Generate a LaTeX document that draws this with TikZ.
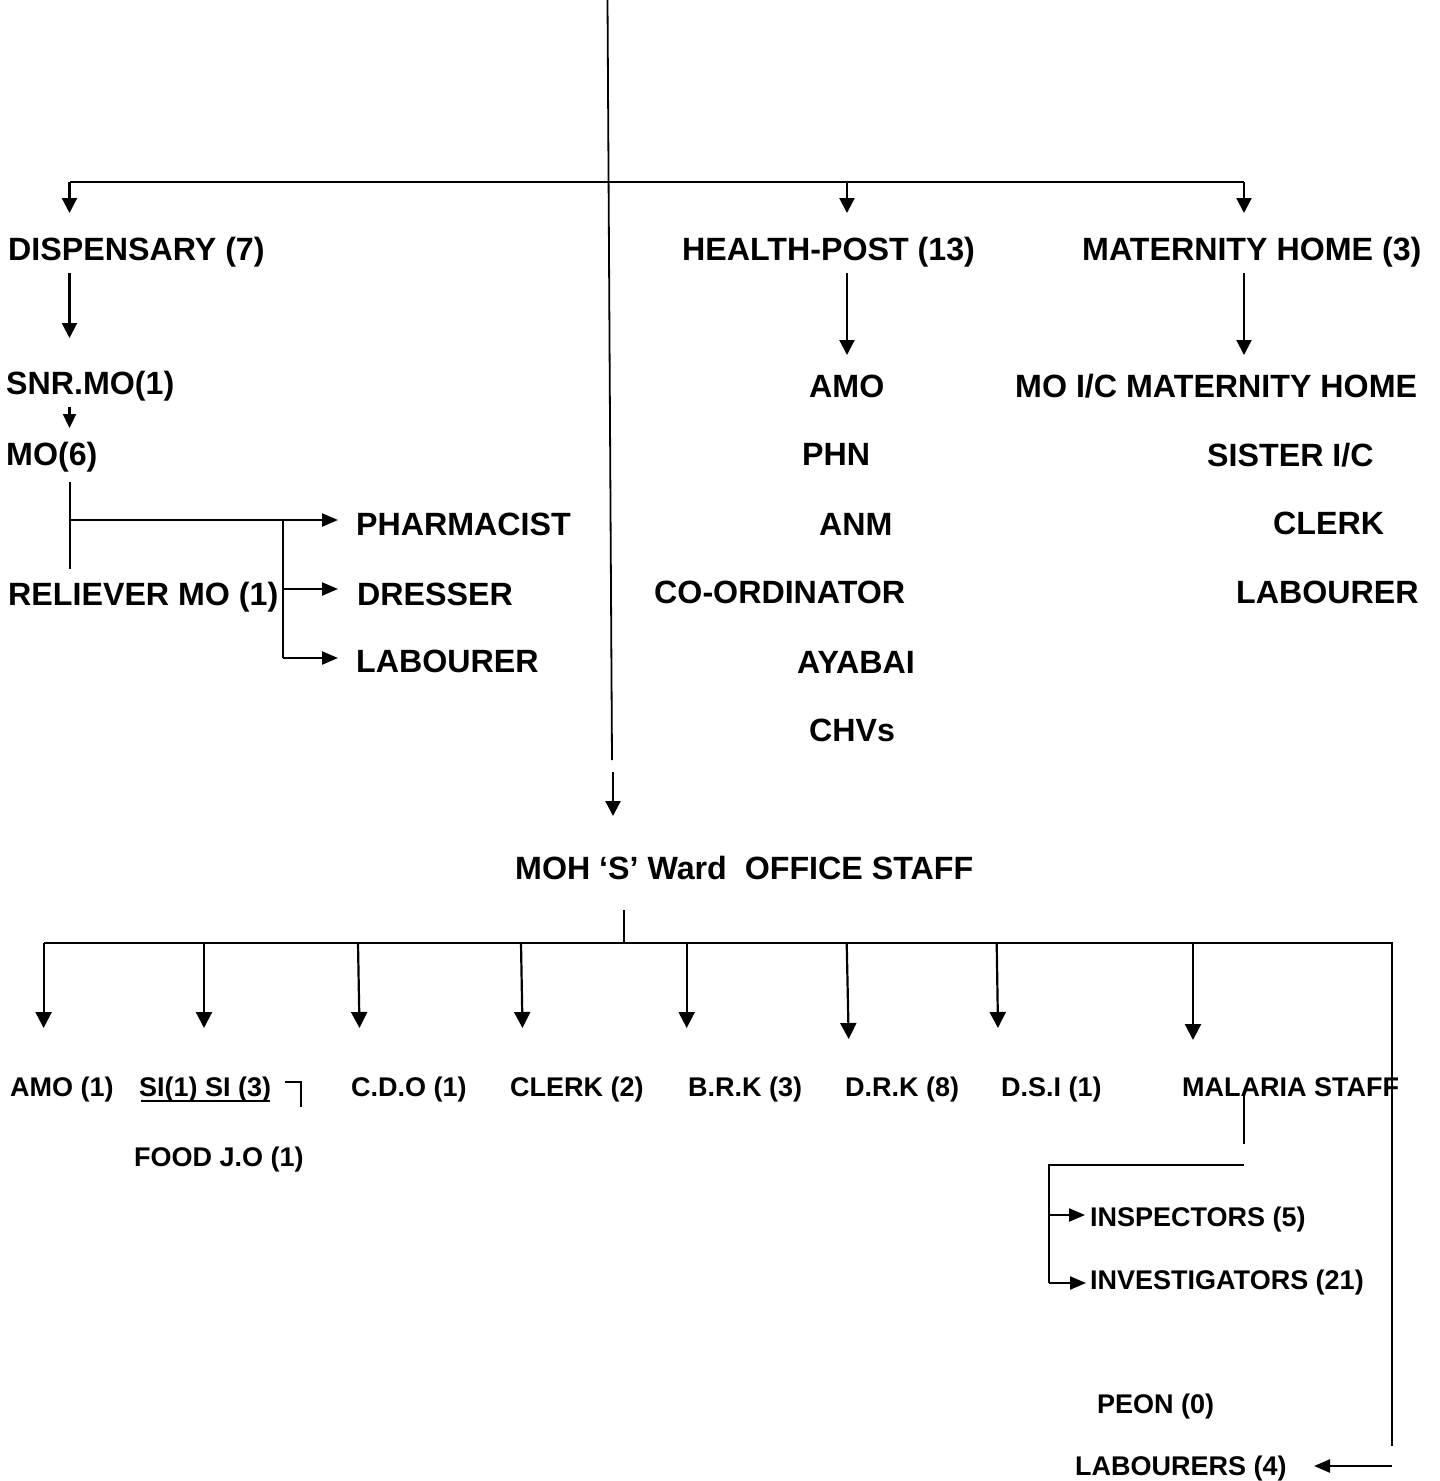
\documentclass[tikz,border=0pt]{standalone}
\usepackage{fontspec}
\setmainfont{Liberation Sans}
\usetikzlibrary{arrows.meta}
\begin{document}
\begin{tikzpicture}[x=1pt,y=-1pt,
  big/.style={font=\fontsize{32.2}{38}\selectfont\bfseries, inner sep=0pt, anchor=base west},
  small/.style={font=\fontsize{27}{32}\selectfont\bfseries, inner sep=0pt, anchor=base west},
  ln/.style={line width=2.2pt},
  thin/.style={line width=1.8pt},
  arr/.style={line width=2.2pt, -{Triangle[width=15pt,length=15pt]}},
  sarr/.style={line width=2.2pt, -{Triangle[width=13pt,length=16pt]}},
  barr/.style={line width=2.2pt, -{Triangle[width=16pt,length=16pt]}}]
\useasboundingbox (0,0) rectangle (1440,1481);

% ---------- upper part ----------
\node[big] (disp) at (8,260) {DISPENSARY (7)};
\node[big] (hp)   at (682,260) {HEALTH-POST (13)};
\node[big] (mh)   at (1082,260) {MATERNITY HOME (3)};

\node[big] (snr)  at (6,394) {SNR.MO(1)};
\node[big] (mo)   at (6,465) {MO(6)};
\node[big] (rel)  at (8,605) {RELIEVER MO (1)};
\node[big] (pha)  at (356,535) {PHARMACIST};
\node[big] (dre)  at (357,605) {DRESSER};
\node[big] (lab1) at (356,672) {LABOURER};

\node[big] (amo)  at (809,397) {AMO};
\node[big] (phn)  at (802,465) {PHN};
\node[big] (anm)  at (819,535) {ANM};
\node[big] (coo)  at (654,603) {CO-ORDINATOR};
\node[big] (aya)  at (797,673) {AYABAI};
\node[big] (chv)  at (809,741) {CHVs};

\node[big] (moic) at (1015,397) {MO I/C MATERNITY HOME};
\node[big] (sis)  at (1207,466) {SISTER I/C};
\node[big] (clk)  at (1273,534) {CLERK};
\node[big] (lab2) at (1236,603) {LABOURER};

\node[big] (moh)  at (515,879) {MOH ‘S’ Ward\ \ OFFICE STAFF};

% long line from the top
\coordinate (top) at (607.5,0);
\coordinate (topend) at (612,760);
\draw[thin] (top) -- (topend);

% top bus
\coordinate (tbL) at (69.5,182);
\coordinate (tbM) at (847,182);
\coordinate (tbR) at (1244,182);
\draw[ln] (tbL) -- (tbR);
\draw[arr] (tbL) -- ++(0,31);
\draw[arr] (tbM) -- ++(0,31);
\draw[arr] (tbR) -- ++(0,31);

% second-level arrows
\coordinate (dA) at (69.5,273);
\coordinate (hA) at (847,273);
\coordinate (mA) at (1244,273);
\draw[arr] (dA) -- ++(0,65);
\draw[arr] (hA) -- ++(0,82);
\draw[arr] (mA) -- ++(0,82);

% SNR.MO -> MO
\coordinate (sA) at (69.5,407);
\draw[line width=2.2pt, -{Triangle[width=13pt,length=14pt]}] (sA) -- ++(0,21);

% MO(6) branches
\coordinate (moA) at (70,482);
\coordinate (moB) at (70,569);
\coordinate (moJ) at (70,520);
\coordinate (brT) at (282.6,520);
\coordinate (brD) at (282.6,589);
\coordinate (brL) at (282.6,658);
\draw[ln] (moA) -- (moB);
\draw[sarr] (moJ) -- (338,520);
\draw[ln] (brT) -- (brL);
\draw[sarr] (brD) -- (338,589);
\draw[sarr] (brL) -- (338,658);

% ---------- lower part ----------
\coordinate (mohA) at (613,772);
\draw[arr] (mohA) -- ++(0,44);
\coordinate (mohB) at (624,910);
\coordinate (bus) at (624,943);
\draw[ln] (mohB) -- (bus);

\coordinate (bL) at (43.6,943);
\coordinate (bR) at (1392,943);
\coordinate (bRend) at (1392,1446);
\draw[ln] (bL) -- (bR) -- (bRend);

\node[small] (amo1) at (10,1096) {AMO (1)};
\node[small] (si)   at (139,1096) {SI(1) SI (3)};
\node[small] (cdo)  at (351,1096) {C.D.O (1)};
\node[small] (clk2) at (510,1096) {CLERK (2)};
\node[small] (brk)  at (688,1096) {B.R.K (3)};
\node[small] (drk)  at (845,1096) {D.R.K (8)};
\node[small] (dsi)  at (1001,1096) {D.S.I (1)};
\node[small] (mal)  at (1182,1096) {MALARIA STAFF};
\node[small] (food) at (134,1166) {FOOD J.O (1)};
\node[small] (insp) at (1090,1226) {INSPECTORS (5)};
\node[small] (inv)  at (1090,1289) {INVESTIGATORS (21)};
\node[small] (peon) at (1097,1413) {PEON (0)};
\node[small] (labs) at (1075,1475) {LABOURERS (4)};

% underline of SI(1) SI (3)
\draw[line width=2.2pt] ([yshift=-5pt,xshift=2pt]si.base west) -- ([yshift=-5pt,xshift=-1pt]si.base east);
% corner mark
\coordinate (cm1) at (285,1082);
\coordinate (cm2) at (301,1082);
\coordinate (cm3) at (301,1107);
\draw[line width=2.6pt] (cm1) -- (cm2) -- (cm3);

% bottom-row arrows
\draw[barr] (bL) -- (43.6,1028);
\draw[barr] (204,943) -- (204,1028);
\draw[barr] (358,943) -- (359.5,1028);
\draw[barr] (521,943) -- (522.5,1028);
\draw[barr] (686.7,943) -- (686.7,1028);
\draw[barr] (846.7,943) -- (848.7,1039);
\draw[barr] (996.7,943) -- (998,1028);
\draw[barr] (1193,943) -- (1193,1040);

% malaria staff branches
\coordinate (mlA) at (1244,1093);
\coordinate (mlB) at (1244,1144);
\draw[thin] (mlA) -- (mlB);
\coordinate (mlC) at (1244,1165);
\coordinate (mlD) at (1049,1165);
\coordinate (mlE) at (1049,1283);
\coordinate (mlF) at (1049,1215);
\draw[thin] (mlC) -- (mlD) -- (mlE);
\draw[line width=2.2pt, -{Triangle[width=13pt,length=16pt]}] (mlE) -- (1086,1283);
\draw[line width=2.2pt, -{Triangle[width=13pt,length=16pt]}] (mlF) -- (1085,1215);

% labourers arrow
\coordinate (lbA) at (1392,1466);
\draw[line width=2.2pt, -{Triangle[width=13pt,length=16pt]}] (lbA) -- (1314,1466);
\end{tikzpicture}
\end{document}
